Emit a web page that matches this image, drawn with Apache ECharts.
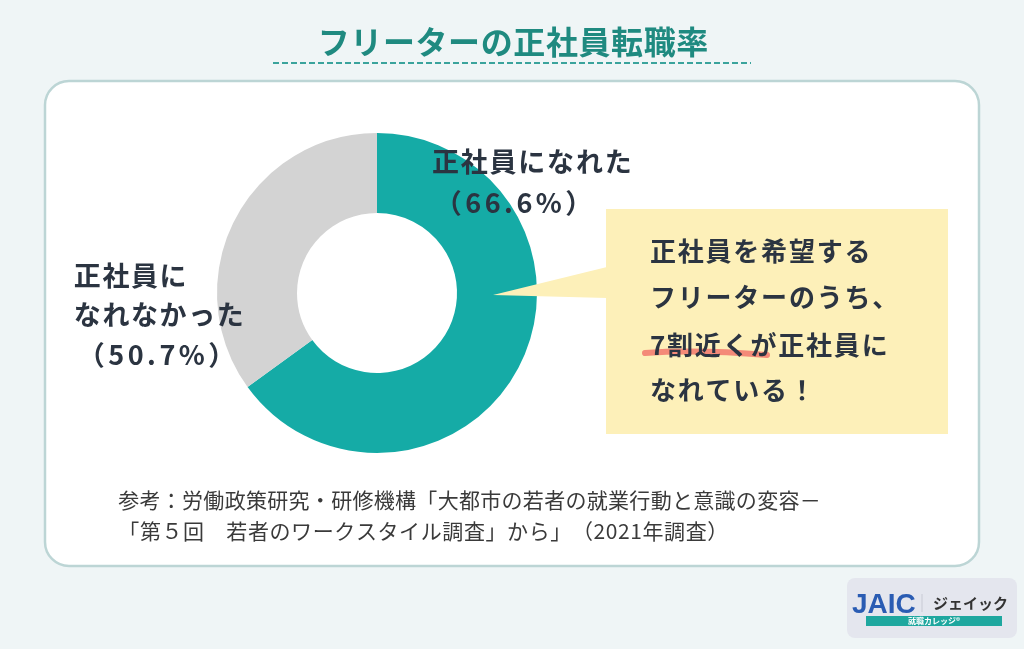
<!DOCTYPE html>
<html>
<head>
<meta charset="utf-8">
<script src="https://cdn.jsdelivr.net/npm/echarts@6/dist/echarts.min.js"></script>
<style>
  html, body { margin: 0; padding: 0; background: #eff5f6; }
  #main { width: 1024px; height: 649px; }
</style>
</head>
<body>
<div id="main"></div>
<script>
// data
var titleText = 'フリーターの正社員転職率';
var categories = ['正社員になれた', '正社員になれなかった'];
var sliceValues = [65, 35];           // size of slices as drawn
var percentLabels = ['66.6%', '50.7%']; // text printed on the chart
var sliceColors = ['#15aba6', '#d3d3d3'];
var calloutLines = ['正社員を希望する', 'フリーターのうち、', '7割近くが正社員に', 'なれている！'];
var sourceLines = [
  '参考：労働政策研究・研修機構「大都市の若者の就業行動と意識の変容－',
  '「第５回　若者のワークスタイル調査」から」（2021年調査）'
];

var FONT = '"Noto Sans CJK JP", "Noto Sans", sans-serif';
var DARK = '#2b3441';

var myChart = echarts.init(document.getElementById('main'));

var pieData = [];
for (var i = 0; i < categories.length; i++) {
  pieData.push({ name: categories[i], value: sliceValues[i], itemStyle: { color: sliceColors[i] } });
}

// text with letter spacing, built as rich text, one token per character
function txt(x, y, s, size, opts) {
  opts = opts || {};
  var sp = opts.spacing || 0;
  var font = (opts.weight || 'bold') + ' ' + size + 'px ' + FONT;
  var style = {
    fill: opts.fill || DARK,
    font: font,
    align: opts.align || 'left', verticalAlign: 'middle'
  };
  if (sp) {
    var parts = [];
    for (var k = 0; k < s.length; k++) parts.push('{c|' + s[k] + '}');
    style.text = parts.join('');
    style.rich = { c: { fill: style.fill, font: font, padding: [0, sp / 2, 0, sp / 2] } };
  } else {
    style.text = s;
  }
  return { type: 'text', x: x, y: y, z: opts.z || 10, style: style };
}

var graphics = [
  // card
  { type: 'rect', z: 0, shape: { x: 45, y: 81, width: 934, height: 485, r: 24 },
    style: { fill: '#ffffff', stroke: '#bcd5d5', lineWidth: 2.5 } },
  // title
  txt(513, 42, titleText, 32, { fill: '#1f8a80', align: 'center', spacing: 0.6 }),
  { type: 'line', z: 5, shape: { x1: 273, y1: 63, x2: 751, y2: 63 },
    style: { stroke: '#3aa39c', lineWidth: 2, lineDash: [6, 3] } },
  // slice labels
  txt(431, 162, categories[0], 27, { spacing: 1.8 }),
  txt(433, 203, '（' + percentLabels[0] + '）', 27, { spacing: 3.5 }),
  txt(73, 276, '正社員に', 27, { spacing: 1.6 }),
  txt(73, 315, 'なれなかった', 27, { spacing: 1.6 }),
  txt(76, 355, '（' + percentLabels[1] + '）', 27, { spacing: 3.5 }),
  // callout box + pointer
  { type: 'rect', z: 6, shape: { x: 606, y: 209, width: 342, height: 225 },
    style: { fill: '#fdf0b9' } },
  { type: 'polygon', z: 6, shape: { points: [[607, 267], [493, 295], [607, 298]] },
    style: { fill: '#fdf0b9' } },
  // underline
  { type: 'bezierCurve', z: 7,
    shape: { x1: 645, y1: 353, x2: 767, y2: 355, cpx1: 690, cpy1: 350, cpx2: 730, cpy2: 352 },
    style: { stroke: '#f48a78', lineWidth: 6, lineCap: 'round', fill: null } }
];

var calloutY = [251, 297, 345, 390];
for (var j = 0; j < calloutLines.length; j++) {
  graphics.push(txt(649, calloutY[j], calloutLines[j], 26, { z: 8, spacing: 1.8 }));
}
graphics.push(txt(118, 500, sourceLines[0], 21, { weight: 'normal', fill: '#3a3a3a', spacing: 0.3 }));
graphics.push(txt(118, 531, sourceLines[1], 21, { weight: 'normal', fill: '#3a3a3a', spacing: 0.6 }));

// logo
graphics.push(
  { type: 'rect', z: 5, shape: { x: 847, y: 578, width: 170, height: 60, r: 8 },
    style: { fill: '#e4e6ee' } },
  { type: 'text', z: 6, x: 852, y: 605,
    style: { text: 'JAIC', fill: '#2a5cb3', font: 'bold 28px "Liberation Sans", sans-serif',
      verticalAlign: 'middle' } },
  { type: 'line', z: 6, shape: { x1: 922, y1: 594, x2: 922, y2: 612 },
    style: { stroke: '#c8cad4', lineWidth: 1 } },
  txt(933, 603, 'ジェイック', 15, { fill: '#333' }),
  { type: 'rect', z: 6, shape: { x: 866, y: 616, width: 136, height: 10 }, style: { fill: '#1ea79f' } },
  txt(934, 621, '就職カレッジ®', 8, { fill: '#ffffff', align: 'center', z: 7 })
);

var option = {
  backgroundColor: '#eff5f6',
  animation: false,
  graphic: graphics,
  series: [
    {
      type: 'pie',
      center: [377, 293],
      radius: [80, 160],
      startAngle: 90,
      clockwise: true,
      silent: true,
      z: 3,
      label: { show: false },
      labelLine: { show: false },
      itemStyle: { borderWidth: 0 },
      data: pieData
    }
  ]
};
myChart.setOption(option);
</script>
</body>
</html>
